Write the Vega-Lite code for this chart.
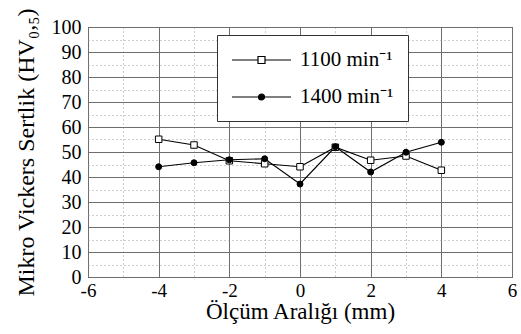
{
  "$schema": "https://vega.github.io/schema/vega-lite/v6.json",
  "width": 424,
  "height": 250,
  "autosize": {"type": "none"},
  "padding": {"left": 88, "top": 27, "right": 9, "bottom": 57},
  "background": "white",
  "config": {
    "font": "Liberation Serif",
    "view": {"stroke": "#333333", "strokeWidth": 1},
    "axis": {
      "labelFont": "Liberation Serif",
      "titleFont": "Liberation Serif",
      "labelColor": "black",
      "titleColor": "black",
      "titleFontWeight": "normal",
      "domain": false,
      "ticks": false,
      "gridWidth": 1,
      "gridOpacity": 1
    },
    "legend": {"labelFont": "Liberation Serif"}
  },
  "data": {
    "values": [
      {"x": -4, "y": 55.1, "series": "1100 min⁻¹"},
      {"x": -3, "y": 52.8, "series": "1100 min⁻¹"},
      {"x": -2, "y": 46.5, "series": "1100 min⁻¹"},
      {"x": -1, "y": 45.3, "series": "1100 min⁻¹"},
      {"x": 0, "y": 44.1, "series": "1100 min⁻¹"},
      {"x": 1, "y": 51.9, "series": "1100 min⁻¹"},
      {"x": 2, "y": 46.7, "series": "1100 min⁻¹"},
      {"x": 3, "y": 48.4, "series": "1100 min⁻¹"},
      {"x": 4, "y": 42.7, "series": "1100 min⁻¹"},
      {"x": -4, "y": 44.1, "series": "1400 min⁻¹"},
      {"x": -3, "y": 45.7, "series": "1400 min⁻¹"},
      {"x": -2, "y": 46.9, "series": "1400 min⁻¹"},
      {"x": -1, "y": 47.3, "series": "1400 min⁻¹"},
      {"x": 0, "y": 37.2, "series": "1400 min⁻¹"},
      {"x": 1, "y": 52.1, "series": "1400 min⁻¹"},
      {"x": 2, "y": 42.0, "series": "1400 min⁻¹"},
      {"x": 3, "y": 49.9, "series": "1400 min⁻¹"},
      {"x": 4, "y": 53.9, "series": "1400 min⁻¹"}
    ]
  },
  "encoding": {
    "x": {
      "field": "x",
      "type": "quantitative",
      "scale": {"domain": [-6, 6], "nice": false},
      "axis": {
        "values": [-6, -5, -4, -3, -2, -1, 0, 1, 2, 3, 4, 5, 6],
        "labelExpr": "datum.value % 2 === 0 ? '' + datum.value : ''",
        "labelFont": "Liberation Serif",
        "labelFontSize": 19,
        "labelPadding": 4,
        "labelFlush": false,
        "labelOverlap": false,
        "title": "Ölçüm Aralığı (mm)",
        "titleFont": "Liberation Serif",
        "titleFontSize": 23,
        "titlePadding": 0,
        "gridDash": {"condition": {"test": "datum.value % 2 !== 0", "value": [1, 3]}, "value": []},
        "gridColor": {"condition": {"test": "datum.value % 2 !== 0", "value": "#9a9a9a"}, "value": "#6e6e6e"}
      }
    },
    "y": {
      "field": "y",
      "type": "quantitative",
      "scale": {"domain": [0, 100], "nice": false},
      "axis": {
        "values": [0, 5, 10, 15, 20, 25, 30, 35, 40, 45, 50, 55, 60, 65, 70, 75, 80, 85, 90, 95, 100],
        "labelExpr": "datum.value % 10 === 0 ? '' + datum.value : ''",
        "labelFont": "Liberation Serif",
        "labelFontSize": 20,
        "labelPadding": 7,
        "labelOverlap": false,
        "title": "Mikro Vickers Sertlik (HV₀,₅)",
        "titleFont": "Liberation Serif",
        "titleFontSize": 24,
        "titlePadding": 13,
        "gridDash": {"condition": {"test": "datum.value % 10 !== 0", "value": [1, 3]}, "value": []},
        "gridColor": {"condition": {"test": "datum.value % 10 !== 0", "value": "#9a9a9a"}, "value": "#6e6e6e"}
      }
    }
  },
  "layer": [
    {
      "mark": {"type": "line", "color": "black", "strokeWidth": 1.2},
      "encoding": {"detail": {"field": "series"}}
    },
    {
      "transform": [{"filter": "datum.series === '1100 min⁻¹'"}],
      "mark": {"type": "point", "shape": "square", "filled": true, "fill": "white", "stroke": "black", "strokeWidth": 1, "size": 42, "opacity": 1}
    },
    {
      "transform": [{"filter": "datum.series === '1400 min⁻¹'"}],
      "mark": {"type": "point", "shape": "circle", "filled": true, "fill": "black", "stroke": "black", "strokeWidth": 1, "size": 36, "opacity": 1}
    },
    {
      "mark": {"type": "point", "filled": true, "opacity": 0, "size": 400},
      "encoding": {
        "shape": {
          "field": "series",
          "type": "nominal",
          "scale": {"range": [
            "M-1,0H1.6M2.3,0H4.9M1.6,-0.35H2.3V0.35H1.6Z",
            "M-1,0H4.9M1.65,0A0.3,0.3,0,1,1,2.25,0A0.3,0.3,0,1,1,1.65,0Z"
          ]},
          "legend": {
            "title": null,
            "orient": "none",
            "legendX": 129,
            "legendY": 8,
            "direction": "vertical",
            "padding": 14,
            "fillColor": "white",
            "strokeColor": "#333333",
            "symbolOpacity": 1,
            "symbolSize": 400,
            "labelFontSize": 21,
            "labelColor": "black",
            "labelOffset": 47,
            "rowPadding": 16,
            "labelLimit": 200,
            "encode": {
              "symbols": {
                "update": {
                  "stroke": {"value": "black"},
                  "strokeWidth": {"value": 1.2},
                  "opacity": {"value": 1},
                  "strokeOpacity": {"value": 1}
                }
              }
            }
          }
        },
        "fill": {
          "field": "series",
          "type": "nominal",
          "scale": {"range": ["white", "black"]},
          "legend": {
            "title": null,
            "orient": "none",
            "legendX": 129,
            "legendY": 8,
            "direction": "vertical",
            "padding": 14,
            "fillColor": "white",
            "strokeColor": "#333333",
            "symbolOpacity": 1,
            "symbolSize": 400,
            "labelFontSize": 21,
            "labelColor": "black",
            "labelOffset": 47,
            "rowPadding": 16,
            "labelLimit": 200,
            "encode": {
              "symbols": {
                "update": {
                  "stroke": {"value": "black"},
                  "strokeWidth": {"value": 1.2},
                  "opacity": {"value": 1},
                  "strokeOpacity": {"value": 1}
                }
              }
            }
          }
        }
      }
    }
  ]
}
